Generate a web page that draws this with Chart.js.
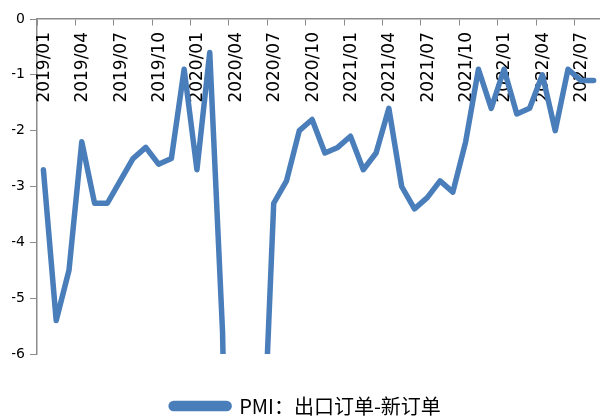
<!DOCTYPE html>
<html>
<head>
<meta charset="utf-8">
<script src="https://cdn.jsdelivr.net/npm/chart.js@4.4.0/dist/chart.umd.min.js"></script>
<style>
	html, body { margin: 0; padding: 0; background: #fff; }
	#wrap { width: 600px; height: 416px; }
</style>
</head>
<body>
<div id="wrap"><canvas id="myChart"></canvas></div>
<script>
// meses 2019/01 - 2022/08
const months = [
	'2019/01', '2019/02', '2019/03', '2019/04', '2019/05', '2019/06',
	'2019/07', '2019/08', '2019/09', '2019/10', '2019/11', '2019/12',
	'2020/01', '2020/02', '2020/03', '2020/04', '2020/05', '2020/06',
	'2020/07', '2020/08', '2020/09', '2020/10', '2020/11', '2020/12',
	'2021/01', '2021/02', '2021/03', '2021/04', '2021/05', '2021/06',
	'2021/07', '2021/08', '2021/09', '2021/10', '2021/11', '2021/12',
	'2022/01', '2022/02', '2022/03', '2022/04', '2022/05', '2022/06',
	'2022/07', '2022/08',
]
// PMI: export orders minus new orders
const pmiDiff = [
	-2.7, -5.4, -4.5, -2.2, -3.3, -3.3, -2.9, -2.5, -2.3, -2.6, -2.5, -0.9,
	-2.7, -0.6, -5.6, -16.7, -15.6, -8.8, -3.3, -2.9, -2.0, -1.8, -2.4, -2.3,
	-2.1, -2.7, -2.4, -1.6, -3.0, -3.4, -3.2, -2.9, -3.1, -2.2, -0.9, -1.6,
	-0.9, -1.7, -1.6, -1.0, -2.0, -0.9, -1.1, -1.1,
]
const yTicks = [0, -1, -2, -3, -4, -5, -6]
const seriesName = 'PMI：出口订单-新订单'

const axisGray = '#8c8c8c'
const lineBlue = '#4a7ebb'

// x labels hang under the axis line, inside the plot (like Excel)
const hangingLabels = {
	id: 'hangingLabels',
	beforeDatasetsDraw(chart) {
		const xs = chart.scales.x
		const ys = chart.scales.y
		const c = chart.ctx
		const top = ys.getPixelForValue(0) + 6 + 7
		c.save()
		c.font = '17px "DejaVu Sans", sans-serif'
		c.fillStyle = '#000'
		c.textAlign = 'right'
		c.textBaseline = 'middle'
		months.forEach((m, i) => {
			if (i % 3 !== 0) return
			c.save()
			c.translate(xs.getPixelForTick(i) + 1, top)
			c.rotate(-Math.PI / 2)
			c.fillText(m, 0, 0)
			c.restore()
		})
		c.restore()
	},
}

const ctx = document.getElementById('myChart').getContext('2d')
const myChart = new Chart(ctx, {
	type: 'line',
	data: {
		labels: months,
		datasets: [
			{
				label: seriesName,
				data: pmiDiff,
				borderColor: lineBlue,
				backgroundColor: lineBlue,
				borderWidth: 5.5,
				pointRadius: 0,
				tension: 0,
				borderJoinStyle: 'round',
				borderCapStyle: 'round',
				clip: { left: 6, top: 6, right: 6, bottom: 0 },
			},
		],
	},
	plugins: [hangingLabels],
	options: {
		responsive: true,
		maintainAspectRatio: false,
		animation: false,
		layout: { padding: { top: 19, right: 0, bottom: -10, left: 12 } },
		plugins: {
			tooltip: { enabled: false },
			legend: {
				position: 'bottom',
				labels: {
					boxWidth: 58,
					boxHeight: 5,
					useBorderRadius: true,
					borderRadius: 2.5,
					padding: 42,
					color: '#000',
					font: { family: '"Noto Sans CJK SC", sans-serif', size: 20 },
				},
			},
		},
		scales: {
			x: {
				type: 'category',
				position: { y: 0 },
				offset: true,
				grid: {
					offset: true,
					drawOnChartArea: false,
					tickLength: 6,
					tickColor: (c) => (c.index % 3 === 0 ? axisGray : 'rgba(0,0,0,0)'),
				},
				border: { color: axisGray, width: 1.5 },
				ticks: {
					display: false,
					autoSkip: false,
				},
				afterFit: (scale) => {
					scale.paddingLeft = 0
					scale.paddingRight = 0
				},
			},
			y: {
				min: -6,
				max: 0,
				grid: {
					drawOnChartArea: false,
					tickLength: 7,
					tickColor: axisGray,
				},
				border: { color: axisGray, width: 1.5 },
				afterBuildTicks: (scale) => {
					scale.ticks = yTicks.map((v) => ({ value: v }))
				},
				ticks: {
					padding: 5,
					color: '#000',
					font: { family: '"DejaVu Sans", sans-serif', size: 14 },
				},
				afterFit: (scale) => {
					scale.width = 25
					scale.paddingTop = 0
					scale.paddingBottom = 0
				},
			},
		},
	},
})
</script>
</body>
</html>
